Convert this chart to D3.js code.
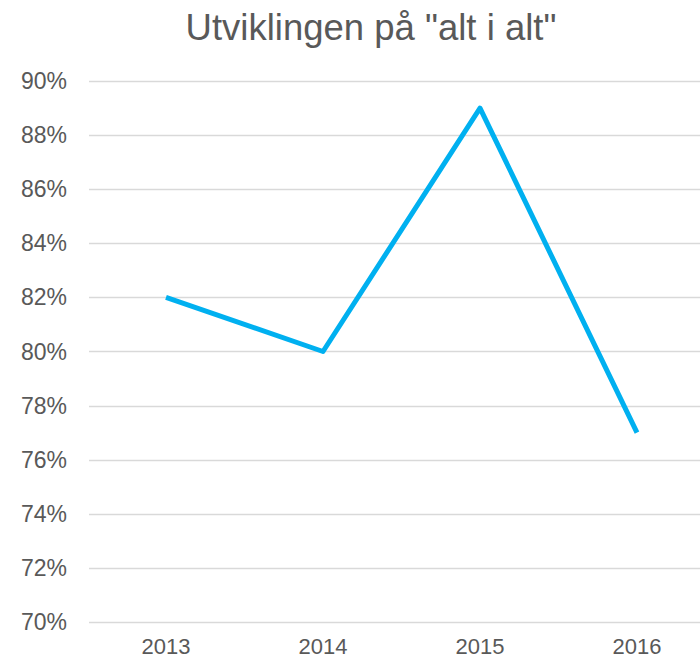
<!DOCTYPE html>
<meta charset="utf-8">
<script src="https://d3js.org/d3.v7.min.js"></script>
<style>
  body { margin: 0; background: #fff; }
  text { font-family: "Liberation Sans", Arial, sans-serif; fill: #595959; }
</style>
<div id="chart"></div>
<script>
var years = ["2013", "2014", "2015", "2016"]
var values = [0.82, 0.80, 0.89, 0.77]
var yTicks = [0.70, 0.72, 0.74, 0.76, 0.78, 0.80, 0.82, 0.84, 0.86, 0.88, 0.90]
var title = 'Utviklingen på "alt i alt"'

var width = 700, height = 660
var svg = d3.select("#chart").append("svg")
    .attr("width", width)
    .attr("height", height)

var x = d3.scalePoint()
    .domain(years)
    .range([166, 637])

var y = d3.scaleLinear()
    .domain([0.70, 0.90])
    .range([622, 81])

// title
svg.append("text")
    .attr("x", 371)
    .attr("y", 40)
    .attr("text-anchor", "middle")
    .style("font-size", "36.5px")
    .text(title)

// gridlines
svg.append("g")
  .selectAll("line")
  .data(yTicks)
  .enter().append("line")
    .attr("x1", 89)
    .attr("x2", 700)
    .attr("y1", function(d){ return Math.round(y(d)) + 0.5 })
    .attr("y2", function(d){ return Math.round(y(d)) + 0.5 })
    .style("stroke", "#d9d9d9")
    .style("stroke-width", 1.5)

// y labels
svg.append("g")
  .selectAll("text")
  .data(yTicks)
  .enter().append("text")
    .attr("x", 67)
    .attr("y", function(d){ return y(d) })
    .attr("dy", "0.35em")
    .attr("text-anchor", "end")
    .style("font-size", "23px")
    .text(d3.format(".0%"))

// x labels
svg.append("g")
  .selectAll("text")
  .data(years)
  .enter().append("text")
    .attr("x", function(d){ return x(d) })
    .attr("y", 654)
    .attr("text-anchor", "middle")
    .style("font-size", "22px")
    .text(function(d){ return d })

var line = d3.line()
    .x(function(d, i){ return x(years[i]) })
    .y(function(d){ return y(d) })

svg.append("path")
    .datum(values)
    .attr("d", line)
    .style("fill", "none")
    .style("stroke", "#00b0f0")
    .style("stroke-width", 5)
    .style("stroke-linejoin", "round")
</script>
